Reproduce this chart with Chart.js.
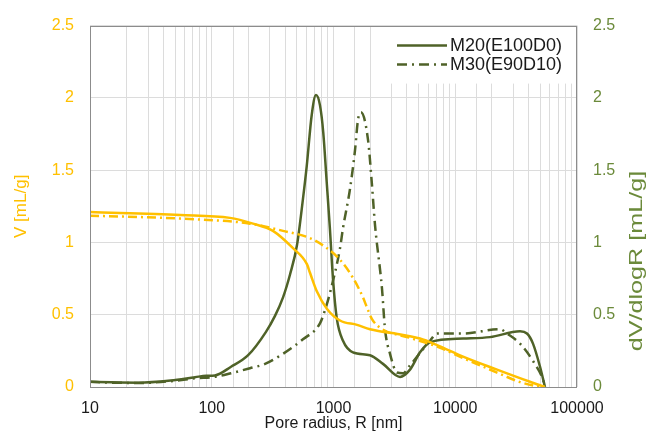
<!DOCTYPE html>
<html>
<head>
<meta charset="utf-8">
<script src="https://cdn.jsdelivr.net/npm/chart.js@4.4.1/dist/chart.umd.min.js"></script>
<style>
  html, body { margin: 0; padding: 0; background: #fff; }
  #wrap { width: 648px; height: 437px; }
</style>
</head>
<body>
<div id="wrap"><canvas id="c" width="648" height="437"></canvas></div>
<script>
// tick values
const xTicks = [10, 100, 1000, 10000, 100000]
const yTicks = [0, 0.5, 1, 1.5, 2, 2.5]

// cumulative volume V [mL/g]
const m20VolR = [10, 55, 141, 218, 318, 465, 605, 641, 731, 885, 1131, 1561, 1994, 3724, 5136, 7085, 11590, 22030, 41100, 54600]
const m20Vol = [1.21, 1.19, 1.17, 1.13, 1.08, 0.96, 0.85, 0.79, 0.66, 0.54, 0.46, 0.43, 0.40, 0.36, 0.335, 0.29, 0.21, 0.12, 0.036, 0]
const m30VolR = [10, 55, 206, 385, 641, 885, 1131, 1445, 1746, 1883, 2071, 2409, 4250, 7085, 11590, 22030, 34030, 49700]
const m30Vol = [1.185, 1.165, 1.13, 1.08, 1.03, 0.96, 0.88, 0.755, 0.62, 0.55, 0.47, 0.41, 0.34, 0.28, 0.20, 0.10, 0.034, 0]

// pore size distribution dV/dlogR [mL/g]
const m20PsdR = [10, 15, 25, 46, 73, 90, 106, 144, 199, 278, 330, 385, 440, 501, 561, 603, 662, 718, 774, 824, 879, 935, 990, 1062, 1197, 1445, 1994, 2551, 3518, 4250, 5136, 6207, 11590, 19290, 34030, 38830, 43500, 49700, 54600]
const m20Psd = [0.036, 0.032, 0.03, 0.045, 0.068, 0.078, 0.08, 0.14, 0.22, 0.38, 0.49, 0.62, 0.78, 0.98, 1.3, 1.53, 1.88, 2.02, 1.95, 1.76, 1.42, 1.09, 0.75, 0.48, 0.32, 0.24, 0.22, 0.16, 0.07, 0.12, 0.24, 0.31, 0.335, 0.345, 0.385, 0.37, 0.30, 0.14, 0]
const m30PsdR = [10, 15, 25, 46, 73, 106, 144, 206, 274, 385, 561, 774, 850, 935, 1131, 1197, 1366, 1503, 1590, 1682, 1921, 2060, 2193, 2502, 2649, 2910, 3323, 3724, 4250, 6207, 7085, 11590, 23330, 26620, 34030, 43500, 52600, 54600]
const m30Psd = [0.036, 0.03, 0.028, 0.04, 0.06, 0.07, 0.095, 0.13, 0.16, 0.23, 0.33, 0.44, 0.53, 0.65, 0.96, 1.10, 1.37, 1.64, 1.85, 1.90, 1.71, 1.42, 1.12, 0.68, 0.40, 0.23, 0.10, 0.095, 0.15, 0.32, 0.37, 0.37, 0.40, 0.37, 0.30, 0.18, 0.05, 0]

const ORANGE = '#FFC000'
const GREEN = '#4F6228'
const GREEN_LABEL = '#6B8A3A'
const GRID = '#dcdcdc'

const pts = (xs, ys) => xs.map((x, i) => ({x: x, y: ys[i]}))

Chart.defaults.font.family = '"Liberation Sans", Arial, sans-serif'
Chart.defaults.font.size = 16

const legendBox = {
    id: 'legendBox',
    afterDatasetsDraw(chart) {
        const {ctx, chartArea} = chart
        const left = chartArea.right - 190
        ctx.save()
        ctx.fillStyle = '#fff'
        ctx.fillRect(left, chartArea.top + 1, 188, 57)
        let y = chartArea.top + 20
        chart.data.datasets.forEach(ds => {
            if (!ds.inLegend) return
            ctx.strokeStyle = ds.borderColor
            ctx.lineWidth = ds.borderWidth
            ctx.setLineDash(ds.borderDash || [])
            ctx.beginPath()
            ctx.moveTo(left + 10, y)
            ctx.lineTo(left + 60, y)
            ctx.stroke()
            ctx.setLineDash([])
            ctx.fillStyle = '#1a1a1a'
            ctx.font = '18px "Liberation Sans", Arial, sans-serif'
            ctx.textBaseline = 'middle'
            ctx.textAlign = 'left'
            ctx.fillText(ds.label, left + 63, y)
            y += 19
        })
        ctx.restore()
    }
}

const frame = {
    id: 'frame',
    afterDraw(chart) {
        const {ctx, chartArea} = chart
        ctx.save()
        ctx.strokeStyle = '#8c8c8c'
        ctx.lineWidth = 1
        ctx.strokeRect(Math.round(chartArea.left) + 0.5, Math.round(chartArea.top) + 0.5,
            Math.round(chartArea.width) - 1, Math.round(chartArea.height))
        // right axis title, reads bottom to top
        ctx.translate(637, 261)
        ctx.rotate(-Math.PI / 2)
        ctx.scale(1.4, 1)
        ctx.fillStyle = GREEN_LABEL
        ctx.font = '18px "Liberation Sans", Arial, sans-serif'
        ctx.textAlign = 'center'
        ctx.textBaseline = 'middle'
        ctx.fillText('dV/dlogR [mL/g]', 0, 0)
        ctx.restore()
    }
}

new Chart(document.getElementById('c'), {
    type: 'line',
    data: {
        datasets: [
            {
                label: 'V M20', data: pts(m20VolR, m20Vol), yAxisID: 'y',
                borderColor: ORANGE, borderWidth: 2.5
            },
            {
                label: 'V M30', data: pts(m30VolR, m30Vol), yAxisID: 'y',
                borderColor: ORANGE, borderWidth: 2.5, borderDash: [9, 4, 2, 4]
            },
            {
                label: 'M20(E100D0)', data: pts(m20PsdR, m20Psd), yAxisID: 'y2',
                borderColor: GREEN, borderWidth: 2.5, inLegend: true
            },
            {
                label: 'M30(E90D10)', data: pts(m30PsdR, m30Psd), yAxisID: 'y2',
                borderColor: GREEN, borderWidth: 2.5, borderDash: [10, 5, 2, 5], inLegend: true
            }
        ]
    },
    options: {
        responsive: false,
        animation: false,
        devicePixelRatio: 1,
        layout: {padding: {top: 22, left: 0, right: 0, bottom: 0}},
        elements: {
            point: {radius: 0},
            line: {cubicInterpolationMode: 'monotone', fill: false}
        },
        plugins: {
            legend: {display: false},
            tooltip: {enabled: false}
        },
        scales: {
            x: {
                type: 'logarithmic',
                min: xTicks[0],
                max: xTicks[xTicks.length - 1],
                border: {display: false},
                grid: {color: GRID, drawTicks: false},
                ticks: {
                    autoSkip: false,
                    maxRotation: 0,
                    color: '#1a1a1a',
                    padding: 12,
                    callback: v => xTicks.includes(v) ? String(v) : ''
                },
                title: {
                    display: true, text: 'Pore radius, R [nm]', color: '#1a1a1a',
                    padding: {top: 0, bottom: 4}
                },
                afterFit: s => { s.height = 50 }
            },
            y: {
                position: 'left',
                min: 0, max: 2.5,
                border: {display: false},
                grid: {color: GRID, drawTicks: false},
                ticks: {
                    stepSize: 0.5, color: ORANGE, padding: 16,
                    callback: v => yTicks.includes(v) ? String(v) : ''
                },
                title: {
                    display: true, text: 'V [mL/g]', color: ORANGE,
                    font: {size: 17}, padding: {top: 11, bottom: 0}
                },
                afterFit: s => { s.width = 90 }
            },
            y2: {
                position: 'right',
                min: 0, max: 2.5,
                border: {display: false},
                grid: {drawOnChartArea: false, drawTicks: false},
                ticks: {
                    stepSize: 0.5, color: GREEN_LABEL, padding: 16,
                    callback: v => yTicks.includes(v) ? String(v) : ''
                },
                afterFit: s => { s.width = 71 }
            }
        }
    },
    plugins: [legendBox, frame]
})
</script>
</body>
</html>
